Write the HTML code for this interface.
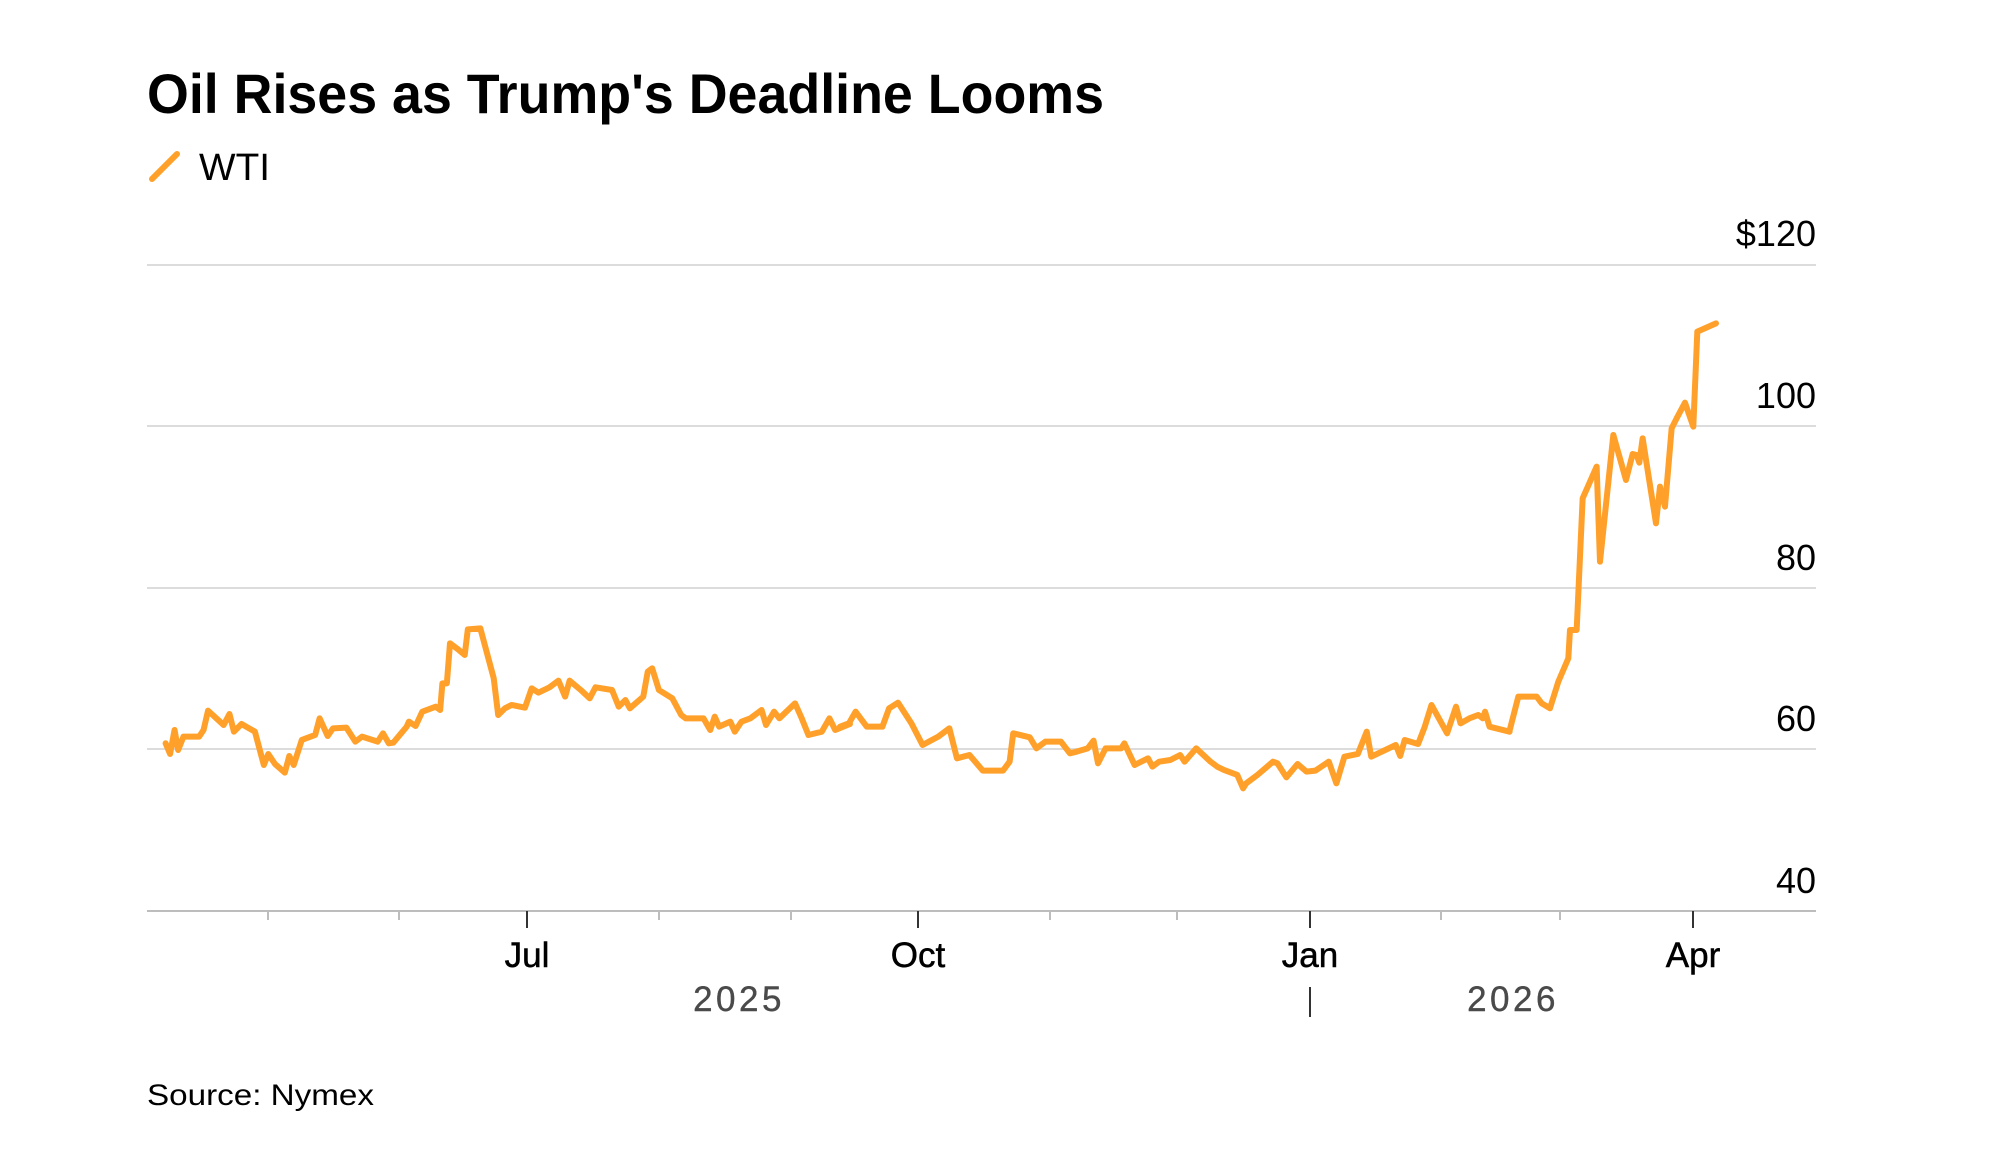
<!DOCTYPE html>
<html><head><meta charset="utf-8"><style>
html,body{margin:0;padding:0;background:#fff;}
svg{display:block;font-family:"Liberation Sans",Arial,sans-serif;}
</style></head><body>
<svg width="2000" height="1149" viewBox="0 0 2000 1149" xmlns="http://www.w3.org/2000/svg">
<text x="147" y="113" font-size="56" font-weight="bold" fill="#000" textLength="957" lengthAdjust="spacingAndGlyphs">Oil Rises as Trump's Deadline Looms</text>
<line x1="152" y1="179" x2="177" y2="154" stroke="#FFA02B" stroke-width="6" stroke-linecap="round"/>
<text x="199" y="180" font-size="38" fill="#000" textLength="71" lengthAdjust="spacingAndGlyphs">WTI</text>

<g stroke="#dcdcdc" stroke-width="2">
<line x1="147" y1="265" x2="1816" y2="265"/>
<line x1="147" y1="426" x2="1816" y2="426"/>
<line x1="147" y1="588" x2="1816" y2="588"/>
<line x1="147" y1="749" x2="1816" y2="749"/>
</g>
<line x1="147" y1="911" x2="1816" y2="911" stroke="#bdbdbd" stroke-width="2"/>
<g stroke="#bdbdbd" stroke-width="2">
<line x1="268" y1="911" x2="268" y2="920"/><line x1="399" y1="911" x2="399" y2="920"/>
<line x1="659" y1="911" x2="659" y2="920"/><line x1="791" y1="911" x2="791" y2="920"/>
<line x1="1050" y1="911" x2="1050" y2="920"/><line x1="1177" y1="911" x2="1177" y2="920"/>
<line x1="1441" y1="911" x2="1441" y2="920"/><line x1="1560" y1="911" x2="1560" y2="920"/>
</g>
<g stroke="#333" stroke-width="2">
<line x1="527" y1="911" x2="527" y2="928"/><line x1="918" y1="911" x2="918" y2="928"/>
<line x1="1310" y1="911" x2="1310" y2="928"/><line x1="1693" y1="911" x2="1693" y2="928"/>
<line x1="1310" y1="987" x2="1310" y2="1017"/>
</g>

<g font-size="36" fill="#000" text-anchor="end">
<text x="1816" y="246">$120</text>
<text x="1816" y="408">100</text>
<text x="1816" y="570">80</text>
<text x="1816" y="731">60</text>
<text x="1816" y="893">40</text>
</g>
<g font-size="35" fill="#000" text-anchor="middle" stroke="#000" stroke-width="0.5">
<text x="527" y="967">Jul</text>
<text x="918" y="967">Oct</text>
<text x="1310" y="967">Jan</text>
<text x="1693" y="967">Apr</text>
</g>
<g font-size="35" fill="#4a4a4a" text-anchor="middle" letter-spacing="3.5" stroke="#4a4a4a" stroke-width="0.4">
<text x="739" y="1011">2025</text>
<text x="1513" y="1011">2026</text>
</g>
<text x="147" y="1105" font-size="30" fill="#000" textLength="227" lengthAdjust="spacingAndGlyphs">Source: Nymex</text>

<g fill="none" stroke="#FFA02B" stroke-width="6" stroke-linejoin="round" stroke-linecap="round">
<polyline vector-effect="non-scaling-stroke" transform="translate(150,600) scale(0.4464,0.3333)" points="35,430 45,462 55,390 63,450 75,410 110,410 120,390 130,332 165,375 178,342 188,395 205,372 235,395 255,495 265,462 280,492 302,518 312,468 322,495 340,420 370,405 380,355 398,408 410,385 440,383 460,425 475,410 510,425 522,400 535,430 545,428 575,380 580,365 595,378 610,335 640,320 650,330 655,250 665,250 672,130 690,148 705,165 712,88 740,85 770,235 780,345 795,325 810,315 840,323 855,265 870,278 895,262 915,242 930,290 940,242 965,270 985,295 998,262 1035,270 1050,320 1065,300 1075,325 1105,290 1115,215 1125,205 1140,270 1170,295 1190,345 1200,355 1240,355 1255,390 1265,350 1275,380 1300,365 1310,395 1325,365 1345,355 1370,330 1380,375 1398,335 1410,355 1445,310 1460,355 1475,405 1505,395 1522,355 1535,390 1568,372"/>
<polyline vector-effect="non-scaling-stroke" transform="translate(840,680) scale(0.4464,0.3333)" points="0,140 20,130 35,95 60,140 95,140 110,85 130,68 160,130 185,195 220,170 245,145 262,235 290,225 320,272 365,272 380,245 388,160 425,172 440,205 460,185 495,185 515,220 530,215 555,205 568,182 578,250 595,205 630,205 637,190 660,255 690,235 700,260 715,245 740,240 762,225 772,245 798,205 830,245 845,260 860,270 890,285 903,325 910,310 935,285 970,245 980,250 1000,292 1025,252 1045,275 1065,272 1095,245 1112,310 1130,230 1160,222 1180,155 1190,230 1245,195 1255,228 1265,180 1295,192 1310,140 1325,75 1360,160 1380,80 1390,130 1410,115 1430,105 1440,115 1445,95 1455,140 1500,155"/>
<polyline vector-effect="non-scaling-stroke" transform="translate(1500,300) scale(0.3333,0.3333)" points="28,1295 55,1190 110,1190 125,1210 150,1225 175,1145 205,1075 210,990 230,990 248,595 290,500 300,785 340,405 378,540 398,462 410,465 418,488 428,415 468,670 480,560 495,620 515,385 530,355 555,308 580,380 592,95 648,70"/>
</g>
</svg>
</body></html>
